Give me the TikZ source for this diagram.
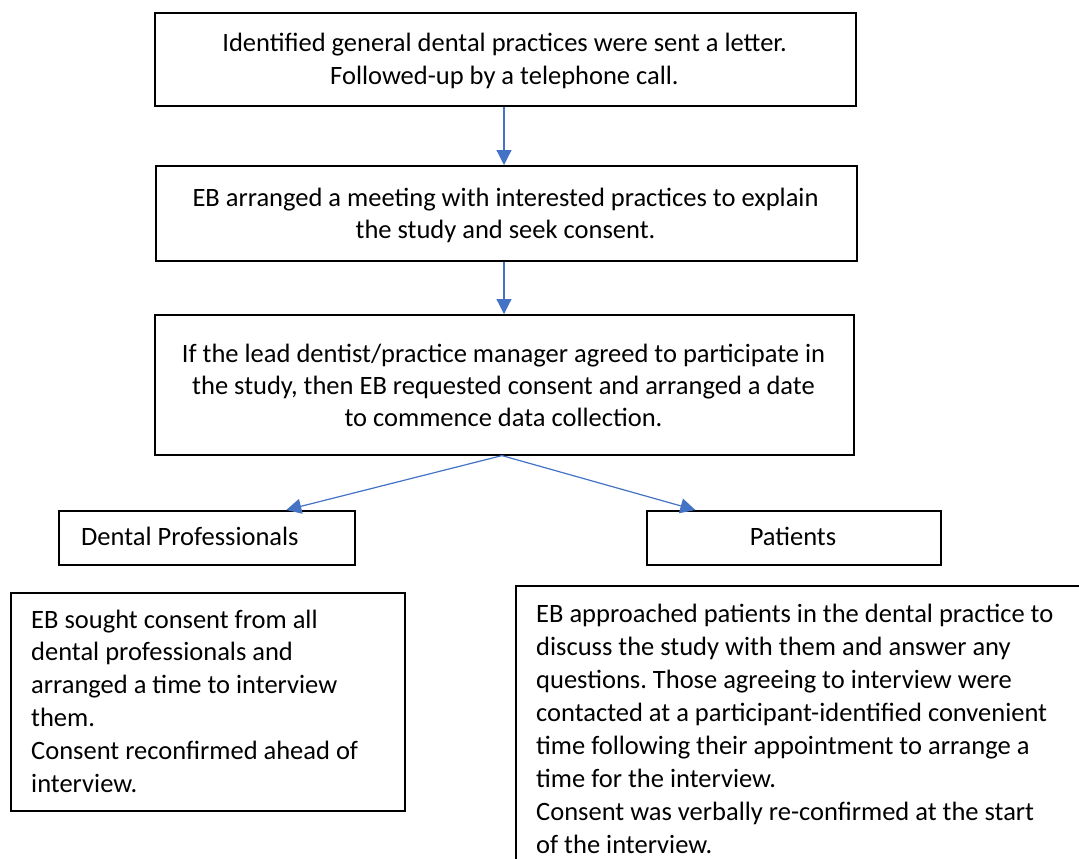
\documentclass[tikz,border=0pt]{standalone}
\usepackage{fontspec}
\setmainfont{Carlito}
\usetikzlibrary{arrows.meta,calc}
\frenchspacing

\definecolor{flowblue}{HTML}{4472C4}

\tikzset{
  frame/.style={draw=black, line width=1.6pt, fill=white, inner sep=0pt, anchor=north west},
  label/.style={inner sep=0pt, anchor=base},
  flow/.style={draw=flowblue, line width=1.2pt, -{Triangle[length=15pt,width=15pt]}},
}

% parbox helpers keep the first line's baseline as the node baseline
\newcommand{\ctrtext}[2]{\parbox[t]{900pt}{\centering\fontsize{26.5}{#1}\selectfont #2}}
\newcommand{\lfttext}[2]{\parbox[t]{700pt}{\raggedright\fontsize{26.5}{#1}\selectfont #2}}

\begin{document}
\begin{tikzpicture}[x=1pt, y=-1pt]
  \useasboundingbox (0,0) rectangle (1079,859);
  \clip (0,0) rectangle (1079,859);
  \fill[white] (0,0) rectangle (1079,859);

  % main chain
  \node[frame, minimum width=701pt, minimum height=93pt] (b1) at (154,12) {};
  \node[frame, minimum width=701pt, minimum height=95pt] (b2) at (155,165) {};
  \node[frame, minimum width=699pt, minimum height=140pt] (b3) at (154,314) {};

  \node[label] (t1) at (504.5,52) {\ctrtext{33}{Identified general dental practices were sent a letter.\\
    Followed-up by a telephone call.}};
  \node[label] (t2) at (505.5,206) {\ctrtext{32}{EB arranged a meeting with interested practices to explain\\
    the study and seek consent.}};
  \node[label] (t3) at (503.5,362) {\ctrtext{32}{If the lead dentist/practice manager agreed to participate in\\
    the study, then EB requested consent and arranged a date\\
    to commence data collection.}};

  % two branches
  \node[frame, minimum width=296pt, minimum height=54pt] (dp) at (58,510) {};
  \node[frame, minimum width=294pt, minimum height=54pt] (pt) at (646,510) {};
  \node[label, anchor=base west] (dpt) at (81,545) {\fontsize{26.5}{32}\selectfont Dental Professionals};
  \node[label] (ptt) at (793,545) {\fontsize{26.5}{32}\selectfont Patients};

  % detail boxes
  \node[frame, minimum width=394pt, minimum height=218pt] (dd) at (10,592) {};
  \node[frame, minimum width=600pt, minimum height=300pt] (pd) at (515,585) {};

  \node[label, anchor=base west] (ddt) at (31,628) {\lfttext{32.8}{EB sought consent from all\\
    dental professionals and\\
    arranged a time to interview\\
    them.\\
    Consent reconfirmed ahead of\\
    interview.}};
  \node[label, anchor=base west] (pdt) at (536,622) {\lfttext{33}{EB approached patients in the dental practice to\\
    discuss the study with them and answer any\\
    questions. Those agreeing to interview were\\
    contacted at a participant-identified convenient\\
    time following their appointment to arrange a\\
    time for the interview.\\
    Consent was verbally re-confirmed at the start\\
    of the interview.}};

  % connectors
  \coordinate (dpin) at ($(dp.north west)!0.767!(dp.north east)$);
  \coordinate (ptin) at ($(pt.north west)!0.167!(pt.north east)$);
  \draw[flow] (b1.south -| 504,0) -- (b2.north -| 504,0);
  \draw[flow] (b2.south -| 504,0) -- (b3.north -| 504,0);
  \draw[flow] (b3.south -| 502,0) -- (dpin);
  \draw[flow] (b3.south -| 502,0) -- (ptin);
\end{tikzpicture}
\end{document}
